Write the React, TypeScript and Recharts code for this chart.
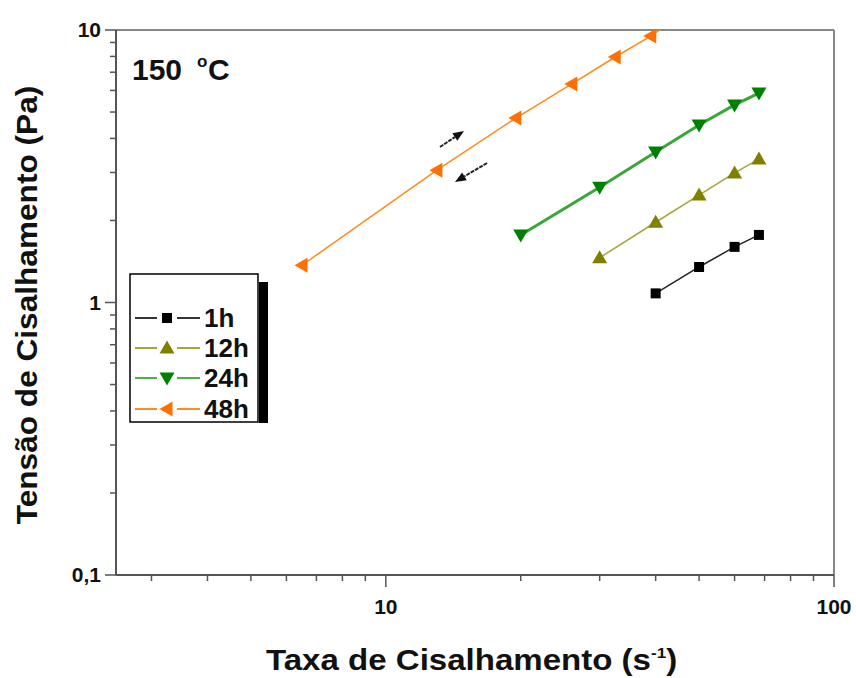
import React from "react";
import { LineChart, Line, XAxis, YAxis, ReferenceLine } from "recharts";

// shear rate (1/s) and shear stress (Pa)
const RATE_48H = [6.5, 13, 19.5, 26, 32.5, 39, 45.5];
const STRESS_48H = [1.37, 3.06, 4.75, 6.34, 7.96, 9.5, 11.3];
const RATE_24H = [20, 30, 40, 50, 60, 68];
const STRESS_24H = [1.77, 2.65, 3.57, 4.48, 5.31, 5.87];
const RATE_12H = [30, 40, 50, 60, 68];
const STRESS_12H = [1.46, 1.97, 2.48, 2.99, 3.36];
const RATE_1H = [40, 50, 60, 68];
const STRESS_1H = [1.08, 1.35, 1.6, 1.77];

const X_TICKS = [3, 4, 5, 6, 7, 8, 9, 10, 20, 30, 40, 50, 60, 70, 80, 90, 100];
const X_MAJOR = [10, 100];
const Y_TICKS = [
  0.1, 0.2, 0.3, 0.4, 0.5, 0.6, 0.7, 0.8, 0.9, 1, 2, 3, 4, 5, 6, 7, 8, 9, 10,
];
const Y_MAJOR = [0.1, 1, 10];
const Y_LABELS: Record<string, string> = { "0.1": "0,1", "1": "1", "10": "10" };

const FONT = "'Liberation Sans', Arial, sans-serif";
const AXIS = "#555";

const toPoints = (xs: number[], ys: number[]) =>
  xs.map((x, i) => ({ x, y: ys[i] }));

const D48 = toPoints(RATE_48H, STRESS_48H);
const D24 = toPoints(RATE_24H, STRESS_24H);
const D12 = toPoints(RATE_12H, STRESS_12H);
const D1 = toPoints(RATE_1H, STRESS_1H);

type Shape = "square" | "up" | "down" | "left";

function markerPath(shape: Shape, cx: number, cy: number) {
  switch (shape) {
    case "square":
      return `M${cx - 5},${cy - 5}h10v10h-10z`;
    case "up":
      return `M${cx},${cy - 7.5}L${cx + 7.5},${cy + 5.5}L${cx - 7.5},${cy + 5.5}z`;
    case "down":
      return `M${cx - 7.5},${cy - 5.5}L${cx + 7.5},${cy - 5.5}L${cx},${cy + 7.5}z`;
    default:
      return `M${cx - 7.5},${cy}L${cx + 5.5},${cy - 7.5}L${cx + 5.5},${cy + 7.5}z`;
  }
}

const makeDot = (shape: Shape, fill: string) => (p: any) => {
  const { cx, cy, index } = p;
  if (cx == null || cy == null) return <g key={index} />;
  return <path key={index} d={markerPath(shape, cx, cy)} fill={fill} />;
};

function XTick(props: any) {
  const { x, y, payload } = props;
  const major = X_MAJOR.includes(payload.value);
  return (
    <g>
      <line x1={x} y1={y} x2={x} y2={y + (major ? 12 : 6)} stroke={AXIS} strokeWidth={1.5} />
      {major && (
        <text
          x={x}
          y={y + 39}
          textAnchor="middle"
          fontFamily={FONT}
          fontWeight={700}
          fontSize={21}
          fill="#111"
        >
          {payload.value}
        </text>
      )}
    </g>
  );
}

function YTick(props: any) {
  const { x, y, payload } = props;
  const major = Y_MAJOR.includes(payload.value);
  return (
    <g>
      <line x1={x - (major ? 11 : 6)} y1={y} x2={x} y2={y} stroke={AXIS} strokeWidth={1.5} />
      {major && (
        <text
          x={x - 15}
          y={y + 7}
          textAnchor="end"
          fontFamily={FONT}
          fontWeight={700}
          fontSize={21}
          fill="#111"
        >
          {Y_LABELS[String(payload.value)]}
        </text>
      )}
    </g>
  );
}

function Arrow({ x1, y1, x2, y2 }: { x1: number; y1: number; x2: number; y2: number }) {
  const dx = x2 - x1;
  const dy = y2 - y1;
  const len = Math.hypot(dx, dy);
  const ux = dx / len;
  const uy = dy / len;
  const bx = x2 - ux * 11;
  const by = y2 - uy * 11;
  return (
    <g>
      <line x1={x1} y1={y1} x2={bx} y2={by} stroke="#222" strokeWidth={2} strokeDasharray="4 1" />
      <path
        d={`M${x2},${y2}L${bx - uy * 4.5},${by + ux * 4.5}L${bx + uy * 4.5},${by - ux * 4.5}z`}
        fill="#111"
      />
    </g>
  );
}

const LEGEND = [
  { label: "1h", shape: "square" as Shape, line: "#333", fill: "#000", y: 318 },
  { label: "12h", shape: "up" as Shape, line: "#a5a53a", fill: "#808000", y: 348 },
  { label: "24h", shape: "down" as Shape, line: "#4caf50", fill: "#008000", y: 378 },
  { label: "48h", shape: "left" as Shape, line: "#ff8c1a", fill: "#ff7000", y: 409 },
];

export default function App() {
  return (
    <div
      style={{
        position: "absolute",
        left: 0,
        top: 0,
        width: 856,
        height: 678,
        background: "#fff",
      }}
    >
      <LineChart
        width={856}
        height={678}
        margin={{ top: 30, right: 22, bottom: 0, left: 0 }}
      >
        <XAxis
          dataKey="x"
          type="number"
          scale="log"
          domain={[2.5, 100]}
          allowDataOverflow
          ticks={X_TICKS}
          interval={0}
          tickSize={0}
          tickMargin={0}
          tickLine={false}
          tick={<XTick />}
          height={103}
          axisLine={{ stroke: AXIS, strokeWidth: 2 }}
        />
        <YAxis
          dataKey="y"
          type="number"
          scale="log"
          domain={[0.1, 10]}
          allowDataOverflow
          ticks={Y_TICKS}
          interval={0}
          tickSize={0}
          tickMargin={0}
          tickLine={false}
          tick={<YTick />}
          width={116}
          axisLine={{ stroke: AXIS, strokeWidth: 2 }}
        />
        <ReferenceLine y={10} stroke="#888" strokeWidth={2} />
        <ReferenceLine x={100} stroke="#888" strokeWidth={2} />
        <Line
          data={D48}
          dataKey="y"
          stroke="#ff8c1a"
          strokeWidth={1.5}
          dot={makeDot("left", "#ff7000")}
          isAnimationActive={false}
        />
        <Line
          data={D24}
          dataKey="y"
          stroke="#3aa53a"
          strokeWidth={3}
          dot={makeDot("down", "#008000")}
          isAnimationActive={false}
        />
        <Line
          data={D12}
          dataKey="y"
          stroke="#a5a53a"
          strokeWidth={1.5}
          dot={makeDot("up", "#808000")}
          isAnimationActive={false}
        />
        <Line
          data={D1}
          dataKey="y"
          stroke="#222"
          strokeWidth={1.5}
          dot={makeDot("square", "#000")}
          isAnimationActive={false}
        />
      </LineChart>

      <svg
        width={856}
        height={678}
        style={{ position: "absolute", left: 0, top: 0, pointerEvents: "none" }}
      >
        {/* titles */}
        <text fontFamily={FONT} fontWeight="bold" fill="#111" fontSize={30}>
          <tspan x={132} y={80}>150</tspan>
          <tspan x={197} y={67} fontSize={17}>o</tspan>
          <tspan x={208} y={80}>C</tspan>
        </text>
        <text
          transform="translate(266,670) scale(1.14,1)"
          fontFamily={FONT}
          fontWeight="bold"
          fontSize={29}
          fill="#111"
        >
          Taxa de Cisalhamento (s
          <tspan dy={-12} fontSize={15}>-1</tspan>
          <tspan dy={12}>)</tspan>
        </text>
        <text
          transform="translate(37,305) rotate(-90) scale(1.09,1)"
          textAnchor="middle"
          fontFamily={FONT}
          fontWeight="bold"
          fontSize={29}
          fill="#111"
        >
          Tensão de Cisalhamento (Pa)
        </text>

        {/* direction arrows */}
        <Arrow x1={440} y1={147} x2={464} y2={131} />
        <Arrow x1={487} y1={163} x2={455} y2={182} />

        {/* legend */}
        <rect x={259} y={282} width={9} height={141} fill="#000" />
        <rect x={130} y={274} width={128} height={148} fill="#fff" stroke="#000" strokeWidth={1.5} />
        {LEGEND.map((item) => (
          <g key={item.label}>
            <line x1={135} y1={item.y} x2={157} y2={item.y} stroke={item.line} strokeWidth={2} />
            <line x1={177} y1={item.y} x2={200} y2={item.y} stroke={item.line} strokeWidth={2} />
            <path d={markerPath(item.shape, 167, item.y)} fill={item.fill} />
            <text
              x={204}
              y={item.y + 9}
              fontFamily={FONT}
              fontWeight="bold"
              fontSize={26}
              fill="#111"
            >
              {item.label}
            </text>
          </g>
        ))}
      </svg>
    </div>
  );
}
